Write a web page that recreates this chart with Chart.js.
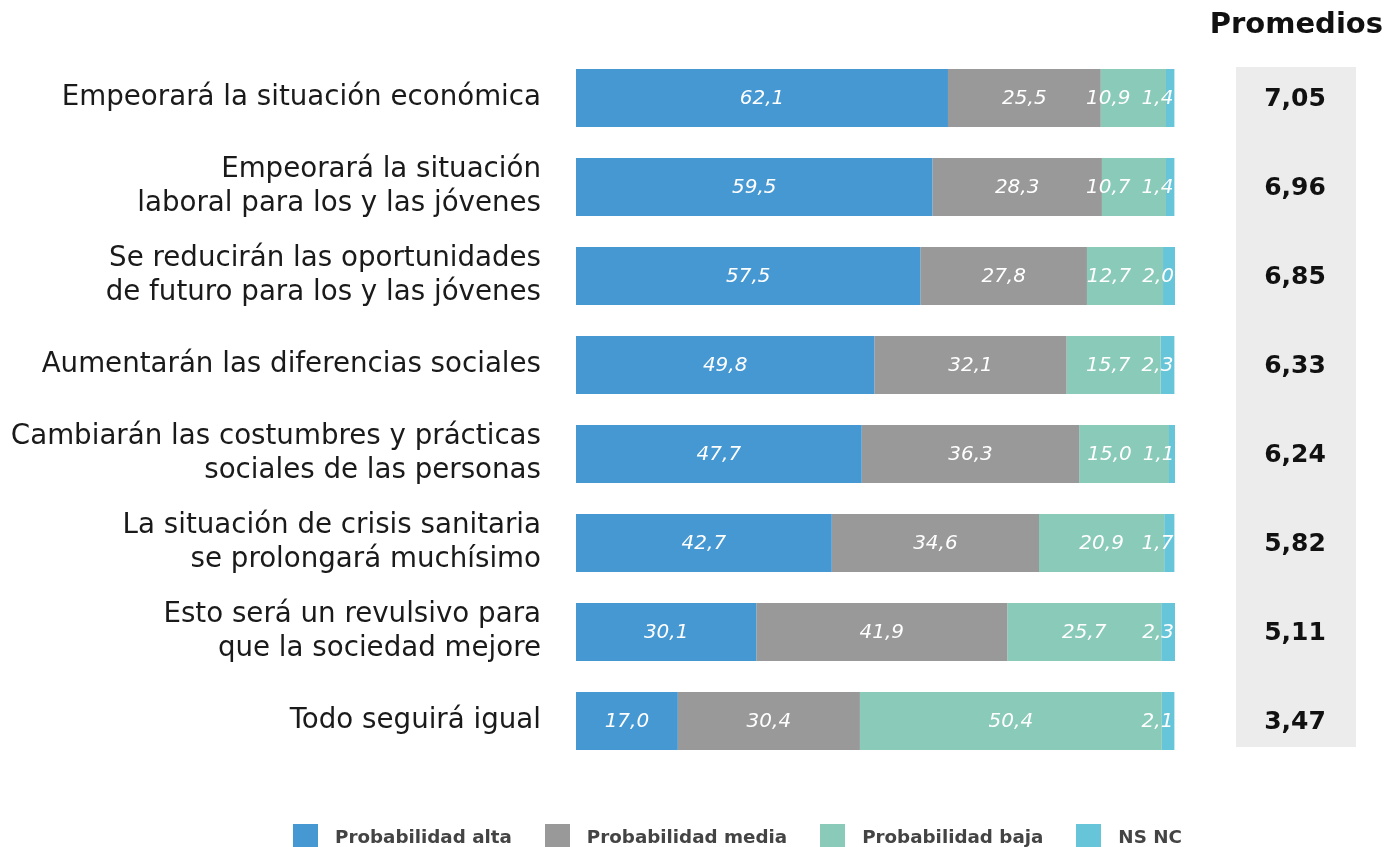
<!DOCTYPE html>
<html>
<head>
<meta charset="utf-8">
<script src="https://cdn.jsdelivr.net/npm/chart.js@4.4.1/dist/chart.umd.min.js"></script>
<style>
  html, body { margin: 0; padding: 0; background: #fff; }
  #wrap { position: relative; width: 1398px; height: 847px; overflow: hidden; }
  #legend { position: absolute; left: 293px; top: 824px; display: flex; align-items: flex-start;
    font-family: "DejaVu Sans", sans-serif; font-weight: 700; font-size: 18.3px; color: #444444; }
  #legend .item { display: flex; align-items: flex-start; margin-right: 33px; }
  #legend .box { width: 25px; height: 25px; margin-right: 17px; }
  #legend span { line-height: 25px; }
</style>
</head>
<body>
<div id="wrap">
  <canvas id="chart" width="1398" height="847"></canvas>
  <div id="legend"></div>
</div>
<script>
// Categories (multi-line labels as arrays)
const categories = [
  ['Empeorará la situación económica'],
  ['Empeorará la situación', 'laboral para los y las jóvenes'],
  ['Se reducirán las oportunidades', 'de futuro para los y las jóvenes'],
  ['Aumentarán las diferencias sociales'],
  ['Cambiarán las costumbres y prácticas', 'sociales de las personas'],
  ['La situación de crisis sanitaria', 'se prolongará muchísimo'],
  ['Esto será un revulsivo para', 'que la sociedad mejore'],
  ['Todo seguirá igual']
];

const seriesNames = ['Probabilidad alta', 'Probabilidad media', 'Probabilidad baja', 'NS NC'];
const seriesColors = ['#4698D3', '#999999', '#8ACAB8', '#67C5D9'];

const probAlta  = [62.1, 59.5, 57.5, 49.8, 47.7, 42.7, 30.1, 17.0];
const probMedia = [25.5, 28.3, 27.8, 32.1, 36.3, 34.6, 41.9, 30.4];
const probBaja  = [10.9, 10.7, 12.7, 15.7, 15.0, 20.9, 25.7, 50.4];
const nsnc      = [1.4, 1.4, 2.0, 2.3, 1.1, 1.7, 2.3, 2.1];

const promedios = [7.05, 6.96, 6.85, 6.33, 6.24, 5.82, 5.11, 3.47];

const FONT = '"DejaVu Sans", sans-serif';

function fmt(v, d) {
  return v.toFixed(d).replace('.', ',');
}

// white italic values in each segment; the thin last segment gets its label pinned
// to the bar end and the one before it is pushed left so they don't collide
const valueLabels = {
  id: 'valueLabels',
  afterDatasetsDraw(chart) {
    const ctx = chart.ctx;
    const last = chart.data.datasets.length - 1;
    ctx.save();
    ctx.font = 'italic 20px ' + FONT;
    ctx.fillStyle = '#ffffff';
    ctx.textBaseline = 'middle';
    ctx.textAlign = 'center';
    const lastMeta = chart.getDatasetMeta(last);
    chart.data.datasets.forEach((ds, i) => {
      chart.getDatasetMeta(i).data.forEach((bar, j) => {
        const txt = fmt(ds.data[j], 1);
        const w = ctx.measureText(txt).width;
        const endBar = lastMeta.data[j];
        const endTxt = fmt(chart.data.datasets[last].data[j], 1);
        const endLeft = endBar.x - 1 - ctx.measureText(endTxt).width;
        let cx;
        if (i === last) {
          cx = endBar.x - 1 - w / 2;
        } else {
          cx = (bar.x + bar.base) / 2;
          if (i === last - 1) cx = Math.min(cx, endLeft - 11 - w / 2);
        }
        ctx.fillText(txt, cx, bar.y + 1);
      });
    });
    ctx.restore();
  }
};

// "Promedios" column on the right
const promediosPanel = {
  id: 'promediosPanel',
  beforeDatasetsDraw(chart) {
    const ctx = chart.ctx;
    const y = chart.scales.y;
    const top = y.getPixelForValue(0) - 31;
    const bottom = y.getPixelForValue(promedios.length - 1) + 26;
    ctx.save();
    ctx.fillStyle = '#ECECEC';
    ctx.fillRect(1236, top, 120, bottom - top);
    ctx.restore();
  },
  afterDraw(chart) {
    const ctx = chart.ctx;
    const y = chart.scales.y;
    ctx.save();
    ctx.fillStyle = '#111111';
    ctx.textBaseline = 'middle';
    ctx.font = 'bold 29px ' + FONT;
    ctx.textAlign = 'right';
    ctx.fillText('Promedios', 1383, 25);
    ctx.textAlign = 'center';
    ctx.font = 'bold 25px ' + FONT;
    promedios.forEach((p, i) => {
      ctx.fillText(fmt(p, 2), 1295, y.getPixelForValue(i) + 1);
    });
    ctx.restore();
  }
};

const seriesData = [probAlta, probMedia, probBaja, nsnc];

const ctx = document.getElementById('chart').getContext('2d');
const chart = new Chart(ctx, {
  type: 'bar',
  data: {
    labels: categories,
    datasets: seriesNames.map((name, i) => ({
      label: name,
      data: seriesData[i],
      backgroundColor: seriesColors[i],
      borderWidth: 0,
      barPercentage: 0.652,
      categoryPercentage: 1
    }))
  },
  options: {
    indexAxis: 'y',
    responsive: false,
    animation: false,
    layout: { padding: { left: 0, top: 53.5, right: 223, bottom: 81.5 } },
    plugins: {
      legend: { display: false },
      tooltip: { enabled: false }
    },
    scales: {
      x: { stacked: true, min: 0, max: 100, display: false },
      y: {
        stacked: true,
        grid: { display: false, drawTicks: false },
        border: { display: false },
        ticks: {
          color: '#1a1a1a',
          padding: 35,
          font: { family: FONT, size: 27.7, lineHeight: 1.23 }
        },
        afterFit(scale) { scale.width = 576; }
      }
    }
  },
  plugins: [valueLabels, promediosPanel]
});

// legend below the chart
const legend = document.getElementById('legend');
seriesNames.forEach((name, i) => {
  const item = document.createElement('div');
  item.className = 'item';
  item.innerHTML = '<div class="box" style="background:' + seriesColors[i] + '"></div><span>' + name + '</span>';
  legend.appendChild(item);
});
</script>
</body>
</html>
